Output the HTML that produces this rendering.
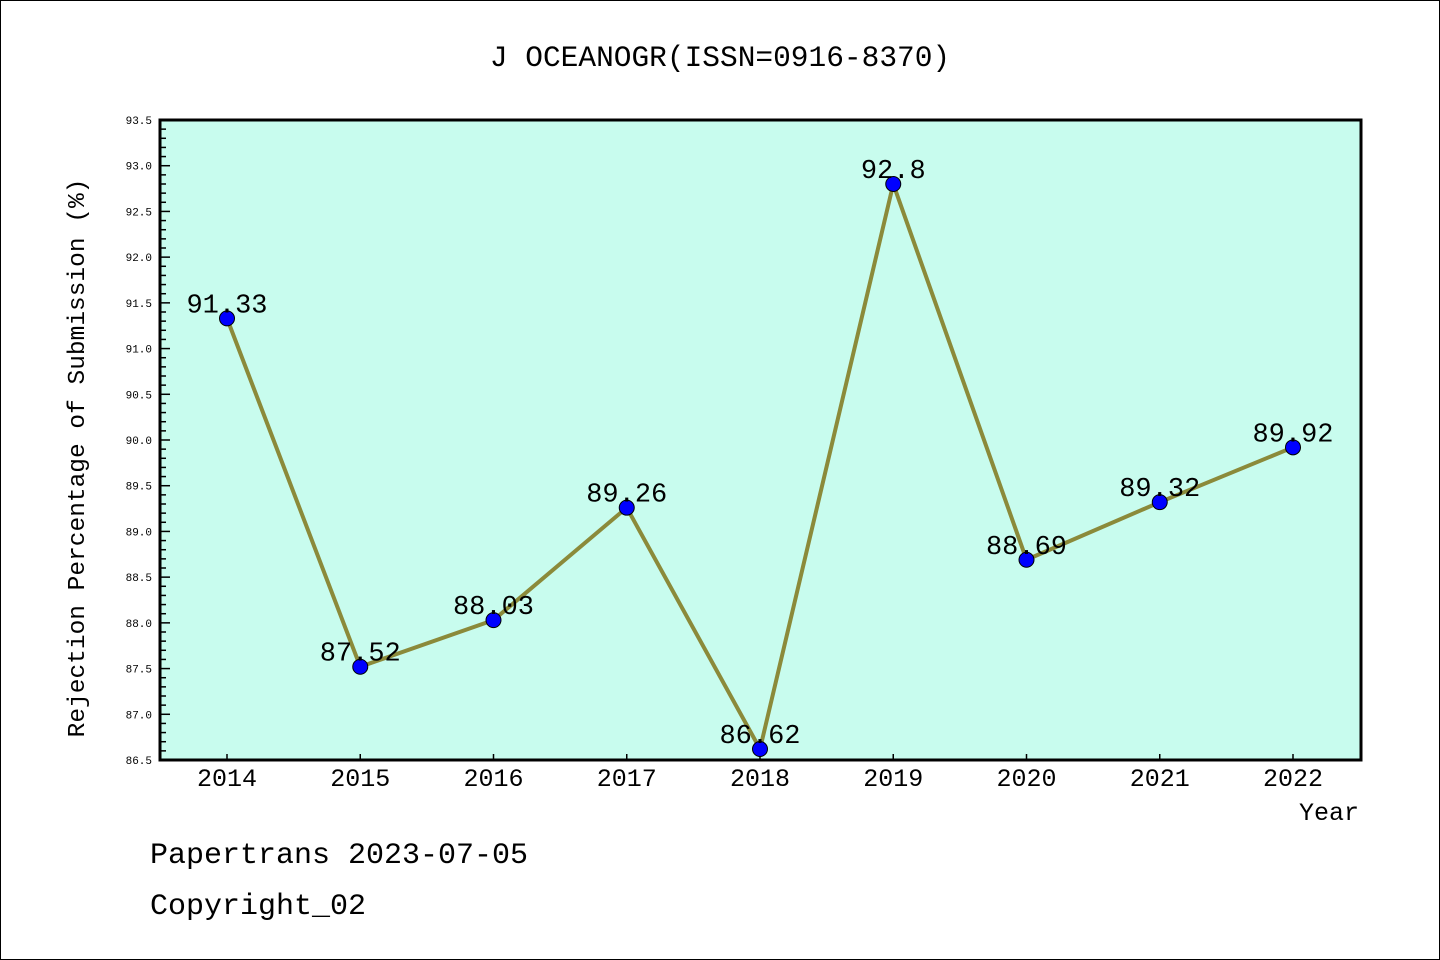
<!DOCTYPE html>
<html><head><meta charset="utf-8"><style>
body{margin:0;background:#fff}
svg{display:block}
text{font-family:"Liberation Mono","DejaVu Sans Mono",monospace;fill:#000}
</style></head><body>
<svg id="chart" width="1440" height="960" xmlns="http://www.w3.org/2000/svg">
<rect x="0.5" y="0.5" width="1439" height="959" fill="#fff" stroke="#000"/>
<text x="720" y="66" font-size="29.5" text-anchor="middle">J OCEANOGR(ISSN=0916-8370)</text>
<rect x="160" y="120" width="1201" height="640" fill="#c8fcee"/>
<g id="ticks"></g>
<g id="series"></g>
<rect x="160" y="120" width="1201" height="640" fill="none" stroke="#000" stroke-width="3"/>
<text x="84" y="458" font-size="24.5" text-anchor="middle" transform="rotate(-90 84 458)">Rejection Percentage of Submission (%)</text>
<text x="1359" y="820" font-size="25" text-anchor="end">Year</text>
<text x="150" y="863" font-size="30">Papertrans 2023-07-05</text>
<text x="150" y="914" font-size="30">Copyright_02</text>
</svg>
<script>
const years=[2014,2015,2016,2017,2018,2019,2020,2021,2022];
const values=[91.33,87.52,88.03,89.26,86.62,92.8,88.69,89.32,89.92];
const labels=["91.33","87.52","88.03","89.26","86.62","92.8","88.69","89.32","89.92"];
const yTicks=["86.5","87.0","87.5","88.0","88.5","89.0","89.5","90.0","90.5","91.0","91.5","92.0","92.5","93.0","93.5"];
const NS="http://www.w3.org/2000/svg";
const yMin=86.5,yMax=93.5;
const yS=v=>760-(v-yMin)/(yMax-yMin)*640;
const xS=i=>227+i*(1293-227)/(years.length-1);
function mk(t,a,p){const e=document.createElementNS(NS,t);for(const k in a)e.setAttribute(k,a[k]);p.appendChild(e);return e;}
const tg=document.getElementById('ticks'),sg=document.getElementById('series');
const nMinor=Math.round((yMax-yMin)*10);
for(let j=0;j<=nMinor;j++){const v=yMin+j*0.1,y=yS(v),maj=j%5===0;
 const l=mk('line',{x1:160,x2:160+(maj?10:6),y1:y,y2:y,stroke:'#000','stroke-width':1.5},tg);
 
 }
yTicks.forEach(s=>{const t=mk('text',{x:152,y:yS(parseFloat(s))+4,'font-size':11,'text-anchor':'end','font-family':'Liberation Sans, sans-serif'},tg);t.textContent=s;
 
 });
years.forEach((yr,i)=>{const x=xS(i);
 const l=mk('line',{x1:x,x2:x,y1:760,y2:754,stroke:'#000','stroke-width':1.5},tg);
 
 
 const t=mk('text',{x:x,y:786,'font-size':25,'text-anchor':'middle','font-family':'Liberation Sans, sans-serif'},tg);t.textContent=yr;
 
 });
const pl=mk('polyline',{points:values.map((v,i)=>xS(i)+','+yS(v)).join(' '),fill:'none',stroke:'#8b8a3a','stroke-width':4,'stroke-linejoin':'miter'},sg);


values.forEach((v,i)=>{
 const c=mk('circle',{cx:xS(i),cy:yS(v),r:7.5,fill:'#0000ff',stroke:'#000','stroke-width':1},sg);
 
 
 const t=mk('text',{x:xS(i),y:yS(v)-6,'font-size':27,'text-anchor':'middle'},sg);t.textContent=labels[i];
 
 });
</script>
</body></html>
